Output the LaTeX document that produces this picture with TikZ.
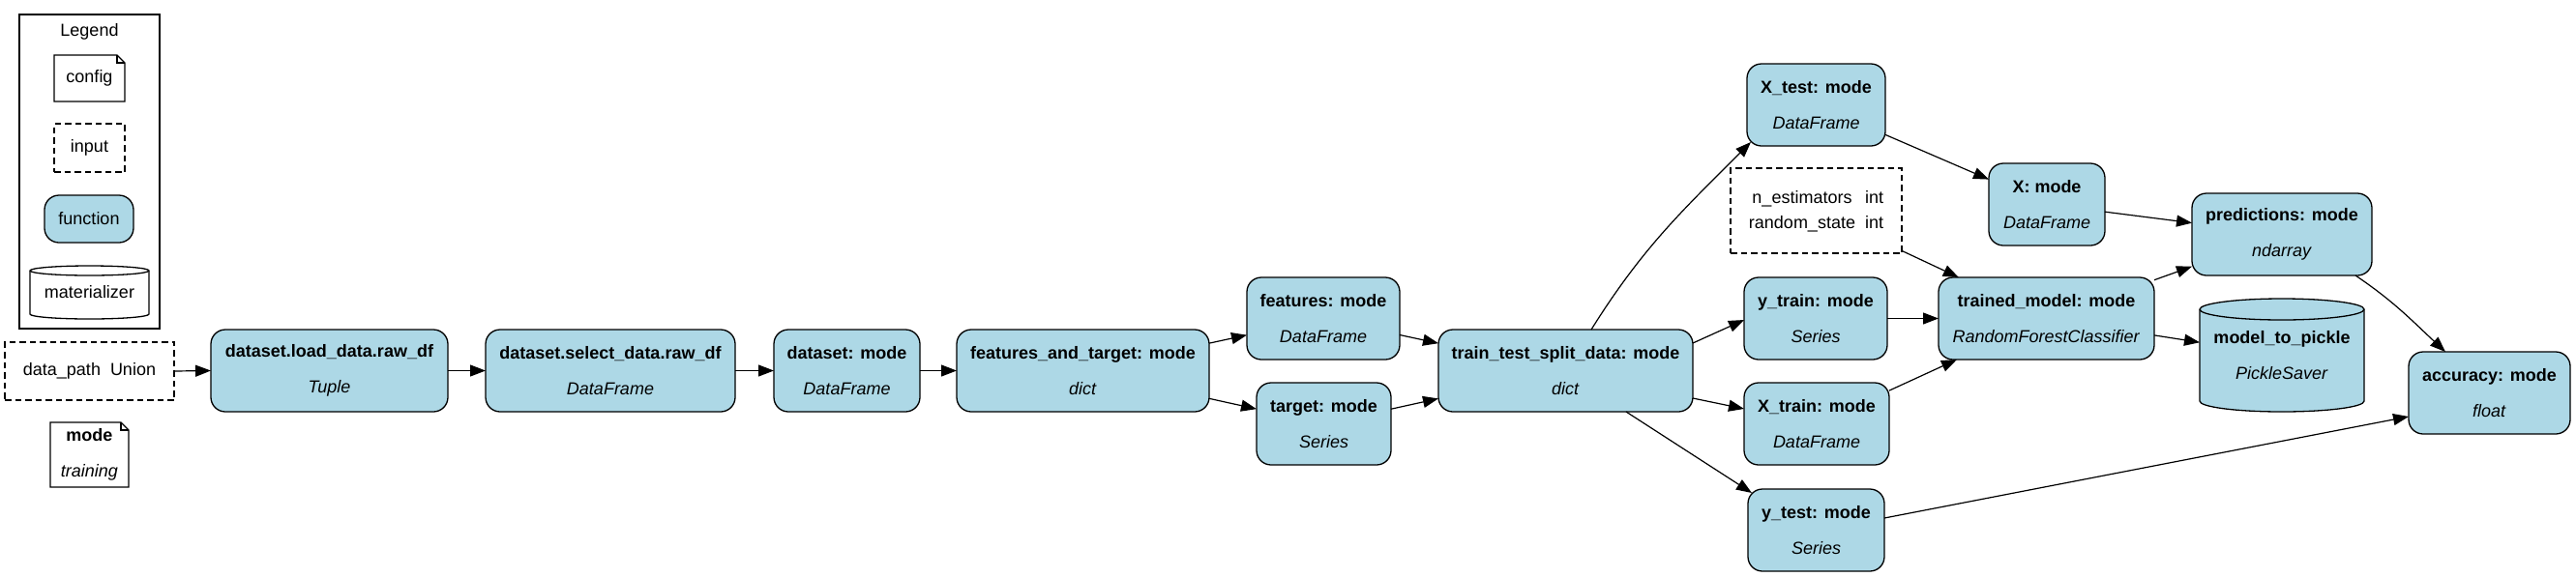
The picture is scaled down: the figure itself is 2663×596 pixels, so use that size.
\documentclass[tikz,border=0pt]{standalone}
\usepackage{fontspec}
\setmainfont{Liberation Sans}
\usetikzlibrary{arrows.meta,calc,backgrounds}
\definecolor{lb}{RGB}{173,216,230}
\tikzset{
 lw/.style={line width=0.65pt},
 fn/.style={draw, lw, fill=lb, rounded corners=7.5pt, minimum height=42.5pt, align=center, inner sep=0pt, outer sep=0pt, font=\fontsize{9}{18.5}\selectfont},
 inbox/.style={draw, line width=0.55pt, dash pattern=on 3.25pt off 2pt, align=center, inner sep=0pt, outer sep=0pt, font=\fontsize{9}{13}\selectfont},
 txt/.style={inner sep=0pt, outer sep=0pt, align=center, font=\fontsize{9}{18.5}\selectfont},
 conn/.style={line width=0.6pt, -{Triangle[length=8pt,width=6pt]}},
}
\newcommand\drawnote[1]{%
 \draw[lw] (#1.south west) -- (#1.north west) -- ([xshift=-4pt]#1.north east) -- ([yshift=-4pt]#1.north east) -- (#1.south east) -- cycle;
 \draw[lw] ([xshift=-4pt]#1.north east) |- ([yshift=-4pt]#1.north east);}
\newcommand\drawcyl[4]{%
 \begin{scope}[on background layer]
 \draw[lw, fill=#2] ([yshift=-#4]#1.north west) -- ([yshift=#4]#1.south west) arc[start angle=180, end angle=360, x radius=#3, y radius=#4] -- ([yshift=-#4]#1.north east) arc[start angle=0, end angle=180, x radius=#3, y radius=#4] -- cycle;
 \draw[lw] ([yshift=-#4]#1.north west) arc[start angle=180, end angle=360, x radius=#3, y radius=#4];
 \end{scope}}
\begin{document}
\begin{tikzpicture}[x=0.5pt,y=0.5pt]
\useasboundingbox (0,0) rectangle (2663,-596);
% legend
\node[draw, lw, minimum width=72.5pt, minimum height=162.5pt, inner sep=0pt, outer sep=0pt] (legend) at (92.5,-177.5) {};
\node[txt] (legendtitle) at (92.5,-33) {Legend};
\node[txt, minimum width=36.5pt, minimum height=24pt] (config) at (92.5,-81) {config};
\drawnote{config}
\node[inbox, minimum width=36.5pt, minimum height=25pt] (input) at (92.5,-153) {input};
\node[fn, minimum width=46pt, minimum height=24.5pt] (function) at (92,-226.5) {function};
\node[txt, minimum width=61.5pt, minimum height=27.5pt] (materializer) at (92.5,-302.5) {materializer};
\drawcyl{materializer}{white}{30.75pt}{2.5pt}
% inputs
\node[inbox, minimum width=87.5pt, minimum height=30pt] (datapath) at (92.5,-384) {data\_path\hspace{5pt}Union};
\node[txt, minimum width=40.5pt, minimum height=33.5pt] (mode) at (92.5,-470.5) {\textbf{mode}\\\textit{training}};
\drawnote{mode}
% functions
\node[fn, minimum width=122.5pt] (load) at (340.5,-383.5) {\textbf{dataset.load\_data.raw\_df}\\\textit{Tuple}};
\node[fn, minimum width=129pt] (select) at (631,-383.5) {\textbf{dataset.select\_data.raw\_df}\\\textit{DataFrame}};
\node[fn, minimum width=75.5pt] (dataset) at (875.5,-383.5) {\textbf{dataset: mode}\\\textit{DataFrame}};
\node[fn, minimum width=130.5pt] (ft) at (1119.5,-383.5) {\textbf{features\_and\_target: mode}\\\textit{dict}};
\node[fn, minimum width=79pt] (features) at (1368,-329.5) {\textbf{features: mode}\\\textit{DataFrame}};
\node[fn, minimum width=69.5pt] (target) at (1368.5,-438.5) {\textbf{target: mode}\\\textit{Series}};
\node[fn, minimum width=131.5pt] (split) at (1618.5,-383.5) {\textbf{train\_test\_split\_data: mode}\\\textit{dict}};
\node[fn, minimum width=71.5pt] (xtest) at (1877.5,-108.5) {\textbf{X\_test: mode}\\\textit{DataFrame}};
\node[inbox, minimum width=88.5pt, minimum height=44pt] (params) at (1877.5,-218) {\begin{tabular}{@{}c@{\hspace{5pt}}c@{}}n\_estimators & int\\ random\_state & int\end{tabular}};
\node[fn, minimum width=74pt] (ytrain) at (1877,-329.5) {\textbf{y\_train: mode}\\\textit{Series}};
\node[fn, minimum width=75pt] (xtrain) at (1878,-438.5) {\textbf{X\_train: mode}\\\textit{DataFrame}};
\node[fn, minimum width=70.5pt] (ytest) at (1877.5,-548.5) {\textbf{y\_test: mode}\\\textit{Series}};
\node[fn, minimum width=60pt] (xmode) at (2116,-211.5) {\textbf{X: mode}\\\textit{DataFrame}};
\node[fn, minimum width=111.5pt] (trained) at (2115.5,-329.5) {\textbf{trained\_model: mode}\\\textit{RandomForestClassifier}};
\node[fn, minimum width=93pt] (pred) at (2359,-242.5) {\textbf{predictions: mode}\\\textit{ndarray}};
\node[txt, minimum width=85pt, minimum height=58.5pt] (pickle) at (2359,-367.5) {\textbf{model\_to\_pickle}\\\textit{PickleSaver}};
\drawcyl{pickle}{lb}{42.5pt}{5.5pt}
\node[fn, minimum width=83.5pt] (acc) at (2573.5,-406.5) {\textbf{accuracy: mode}\\\textit{float}};
% connectors
\draw[conn] (datapath.east) -- (load.west);
\draw[conn] (load.east) -- (select.west);
\draw[conn] (select.east) -- (dataset.west);
\draw[conn] (dataset.east) -- (ft.west);
\draw[conn] (ft) -- (features);
\draw[conn] (ft) -- (target);
\draw[conn] (features) -- (split);
\draw[conn] (target) -- (split);
\draw[conn] ([xshift=13.25pt]split.north) to[out=58, in=225] ([xshift=2pt,yshift=2pt]xtest.south west);
\draw[conn] ([yshift=14.25pt]split.east) -- ([yshift=-0.75pt]ytrain.west);
\draw[conn] ([yshift=-14.25pt]split.east) -- ([yshift=7.75pt]xtrain.west);
\draw[conn] ([xshift=31.25pt]split.south) -- ([xshift=2pt,yshift=-2pt]ytest.north west);
\draw[conn] (xtest) -- (xmode);
\draw[conn] (params) -- (trained);
\draw[conn] (ytrain) -- (trained);
\draw[conn] (xtrain) -- (trained);
\draw[conn] (xmode) -- (pred);
\draw[conn] (trained) -- (pred);
\draw[conn] (trained) -- (pickle);
\draw[conn] ([xshift=38pt]pred.south) to[out=-34, in=137] ([xshift=-22.75pt]acc.north);
\draw[conn] ([yshift=6.25pt]ytest.east) -- ([yshift=-12.25pt]acc.west);
\end{tikzpicture}
\end{document}
